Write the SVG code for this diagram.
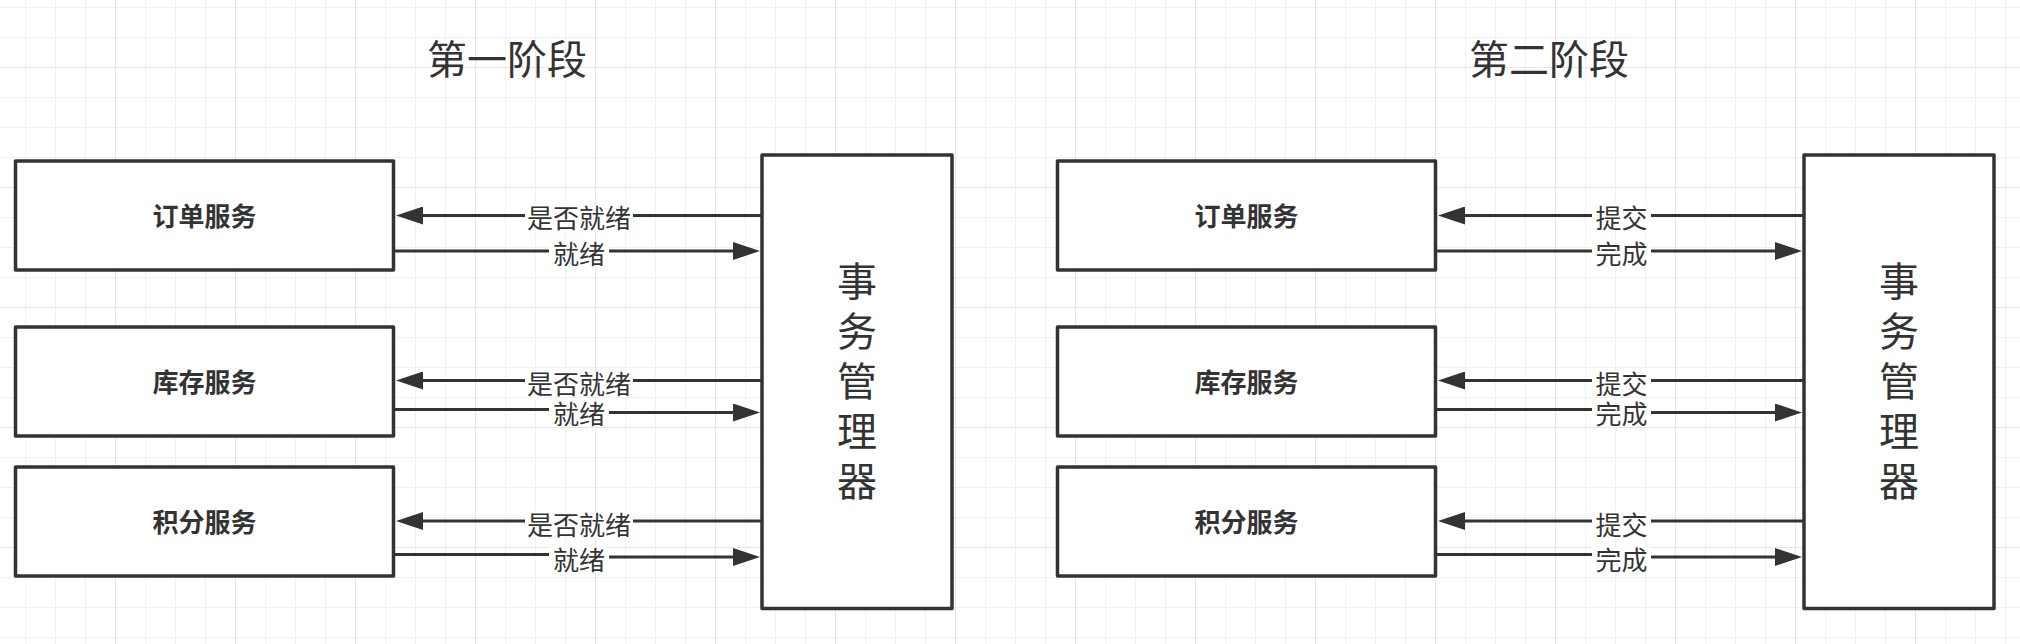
<svg xmlns="http://www.w3.org/2000/svg" width="2020" height="644" viewBox="0 0 2020 644">
<style>
.box{fill:#ffffff;stroke:#333333;stroke-width:3.5;stroke-linejoin:round}
.edge{fill:none;stroke:#333333;stroke-width:3}
.t{font-family:"Noto Sans CJK SC","Noto Sans",sans-serif;fill:#333333;text-anchor:middle}
.title{font-size:40px}
.svc{font-size:26px;font-weight:bold}
.mgr{font-size:40px}
.lbl{font-size:26px}
.lbg{fill:#ffffff}
</style>
<defs>
<pattern id="gMinor" patternUnits="userSpaceOnUse" x="25" y="7" width="30" height="30">
<path d="M0.5,0V30M0,0.5H30" stroke="#f1f1f1" stroke-width="1" fill="none"/>
</pattern>
<pattern id="gMajor" patternUnits="userSpaceOnUse" x="115" y="67" width="120" height="120">
<path d="M0.5,0V120M0,0.5H120" stroke="#e6e6e6" stroke-width="1" fill="none"/>
</pattern>
<marker id="arr" markerUnits="userSpaceOnUse" markerWidth="27" markerHeight="18" refX="0" refY="9" orient="auto" viewBox="0 0 27 18">
<path d="M0,0L27,9L0,18z" fill="#333333"/>
</marker>
</defs>
<rect x="0" y="0" width="2020" height="644" fill="#ffffff"/>
<rect x="0" y="0" width="2020" height="644" fill="url(#gMinor)"/>
<rect x="0" y="0" width="2020" height="644" fill="url(#gMajor)"/>

<g id="title1"><text class="t title" x="507" y="73.5">第一阶段</text></g>
<g id="title2"><text class="t title" x="1549" y="73.5">第二阶段</text></g>

<g id="connectors">
<path class="edge" d="M762,215.5H423" marker-end="url(#arr)"/>
<path class="edge" d="M394,251H733" marker-end="url(#arr)"/>
<path class="edge" d="M762,380.5H423" marker-end="url(#arr)"/>
<path class="edge" d="M394,409.5H579V412.5H733" marker-end="url(#arr)"/>
<path class="edge" d="M762,521H423" marker-end="url(#arr)"/>
<path class="edge" d="M394,554.5H579V557H733" marker-end="url(#arr)"/>

<path class="edge" d="M1804,215.5H1465" marker-end="url(#arr)"/>
<path class="edge" d="M1436,251H1775" marker-end="url(#arr)"/>
<path class="edge" d="M1804,380.5H1465" marker-end="url(#arr)"/>
<path class="edge" d="M1436,409.5H1621V412.5H1775" marker-end="url(#arr)"/>
<path class="edge" d="M1804,521H1465" marker-end="url(#arr)"/>
<path class="edge" d="M1436,554.5H1621V557H1775" marker-end="url(#arr)"/>

<rect class="lbg" x="525" y="205" width="108" height="26"/>
<text class="t lbl" x="579" y="228">是否就绪</text>
<rect class="lbg" x="549" y="240.5" width="60" height="26"/>
<text class="t lbl" x="579" y="263.5">就绪</text>
<rect class="lbg" x="525" y="371" width="108" height="26"/>
<text class="t lbl" x="579" y="394">是否就绪</text>
<rect class="lbg" x="549" y="400.5" width="60" height="26"/>
<text class="t lbl" x="579" y="423.5">就绪</text>
<rect class="lbg" x="525" y="511.5" width="108" height="26"/>
<text class="t lbl" x="579" y="534.5">是否就绪</text>
<rect class="lbg" x="549" y="547" width="60" height="26"/>
<text class="t lbl" x="579" y="570">就绪</text>

<rect class="lbg" x="1592" y="205" width="59" height="26"/>
<text class="t lbl" x="1621.5" y="228">提交</text>
<rect class="lbg" x="1592" y="240.5" width="59" height="26"/>
<text class="t lbl" x="1621.5" y="263.5">完成</text>
<rect class="lbg" x="1592" y="371" width="59" height="26"/>
<text class="t lbl" x="1621.5" y="394">提交</text>
<rect class="lbg" x="1592" y="400.5" width="59" height="26"/>
<text class="t lbl" x="1621.5" y="423.5">完成</text>
<rect class="lbg" x="1592" y="511.5" width="59" height="26"/>
<text class="t lbl" x="1621.5" y="534.5">提交</text>
<rect class="lbg" x="1592" y="547" width="59" height="26"/>
<text class="t lbl" x="1621.5" y="570">完成</text>
</g>

<g id="order1"><rect class="box" x="15.5" y="161" width="378" height="109"/><text class="t svc" x="204.5" y="226">订单服务</text></g>
<g id="stock1"><rect class="box" x="15.5" y="327" width="378" height="109"/><text class="t svc" x="204.5" y="392">库存服务</text></g>
<g id="points1"><rect class="box" x="15.5" y="467" width="378" height="109"/><text class="t svc" x="204.5" y="532">积分服务</text></g>
<g id="manager1"><rect class="box" x="762" y="155" width="190" height="453.5"/>
<text class="t mgr"><tspan x="857" y="296">事</tspan><tspan x="857" y="346">务</tspan><tspan x="857" y="396">管</tspan><tspan x="857" y="446">理</tspan><tspan x="857" y="496">器</tspan></text></g>

<g id="order2"><rect class="box" x="1057.5" y="161" width="378" height="109"/><text class="t svc" x="1246.5" y="226">订单服务</text></g>
<g id="stock2"><rect class="box" x="1057.5" y="327" width="378" height="109"/><text class="t svc" x="1246.5" y="392">库存服务</text></g>
<g id="points2"><rect class="box" x="1057.5" y="467" width="378" height="109"/><text class="t svc" x="1246.5" y="532">积分服务</text></g>
<g id="manager2"><rect class="box" x="1804" y="155" width="190" height="453.5"/>
<text class="t mgr"><tspan x="1899" y="296">事</tspan><tspan x="1899" y="346">务</tspan><tspan x="1899" y="396">管</tspan><tspan x="1899" y="446">理</tspan><tspan x="1899" y="496">器</tspan></text></g>
</svg>
